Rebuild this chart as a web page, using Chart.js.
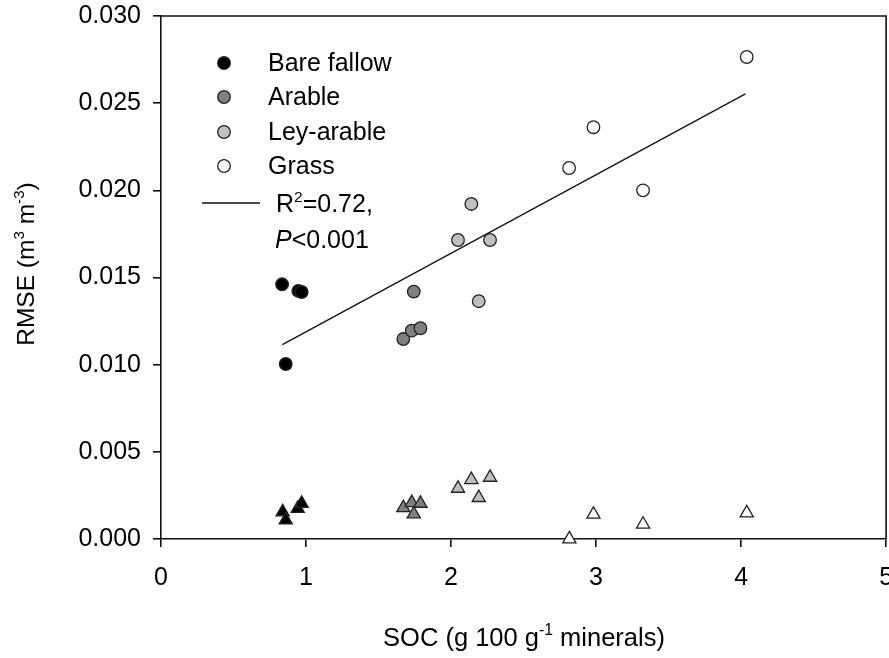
<!DOCTYPE html>
<html>
<head>
<meta charset="utf-8">
<script src="https://cdn.jsdelivr.net/npm/chart.js@4.4.1/dist/chart.umd.min.js"></script>
<style>
html,body{margin:0;padding:0;background:#fff;overflow:hidden;}
#wrap{width:889px;height:658px;position:relative;overflow:hidden;}
</style>
</head>
<body>
<div id="wrap"><canvas id="c" width="895" height="658"></canvas></div>
<script>
// ---- data ----
const groupNames = ["Bare fallow", "Arable", "Ley-arable", "Grass"];
const groupColors = ["#000000", "#808080", "#c0c0c0", "#ffffff"];

const socBare   = [0.835, 0.947, 0.970, 0.860];
const rmseBare  = [0.01461, 0.01423, 0.01417, 0.01004];
const socArable = [1.743, 1.671, 1.729, 1.789];
const rmseArable= [0.01419, 0.01147, 0.01195, 0.01209];
const socLey    = [2.048, 2.140, 2.269, 2.191];
const rmseLey   = [0.01715, 0.01922, 0.01715, 0.01364];
const socGrass  = [2.814, 2.982, 3.324, 4.039];
const rmseGrass = [0.02128, 0.02362, 0.02000, 0.02765];

const socBareT   = [0.839, 0.860, 0.943, 0.970];
const triBare    = [0.00155, 0.00108, 0.00175, 0.00204];
const socArableT = [1.671, 1.729, 1.789, 1.743];
const triArable  = [0.00179, 0.00208, 0.00204, 0.00143];
const socLeyT    = [2.048, 2.140, 2.269, 2.191];
const triLey     = [0.00290, 0.00340, 0.00353, 0.00237];
const socGrassT  = [2.982, 3.324, 4.039, 2.816];
const triGrass   = [0.00141, 0.00084, 0.00149, 0.00000];

const socFit  = [0.837, 4.03];
const rmseFit = [0.01115, 0.02553];

const xTicks = [0, 1, 2, 3, 4, 5];
const yTicks = [0, 0.005, 0.010, 0.015, 0.020, 0.025, 0.030];

const FONT = "'Liberation Sans', Arial, sans-serif";

function pts(xs, ys){ return xs.map((x,i)=>({x:x, y:ys[i]})); }

const circleSets = [
  [socBare, rmseBare], [socArable, rmseArable], [socLey, rmseLey], [socGrass, rmseGrass]
];
const triSets = [
  [socBareT, triBare], [socArableT, triArable], [socLeyT, triLey], [socGrassT, triGrass]
];

const datasets = [];
circleSets.forEach((s,i)=>{
  datasets.push({
    label: groupNames[i], data: pts(s[0], s[1]), showLine:false,
    pointStyle:'circle', pointRadius:6.3, pointBorderWidth:1.3,
    pointBackgroundColor: groupColors[i], pointBorderColor:'#222',
    clip:false, order:1
  });
});
triSets.forEach((s,i)=>{
  datasets.push({
    label: groupNames[i] + " (triangle)", data: pts(s[0], s[1]), showLine:false,
    pointStyle:'triangle', pointRadius:7.6, pointBorderWidth:1.3,
    pointBackgroundColor: groupColors[i], pointBorderColor:'#222',
    clip:false, order:1
  });
});
datasets.push({
  label:'fit', data: pts(socFit, rmseFit), showLine:true, pointRadius:0,
  borderColor:'#111', borderWidth:1.3, clip:false, order:10
});

function drawRich(ctx, parts, x, y, size){
  let cx = x;
  parts.forEach(p=>{
    const fs = p.sup ? size*0.62 : size;
    ctx.font = (p.italic ? 'italic ' : '') + fs + 'px ' + FONT;
    ctx.fillText(p.t, cx, p.sup ? y - size*0.42 : y);
    cx += ctx.measureText(p.t).width;
  });
  return cx - x;
}
function measureRich(ctx, parts, size){
  let w = 0;
  parts.forEach(p=>{
    const fs = p.sup ? size*0.62 : size;
    ctx.font = (p.italic ? 'italic ' : '') + fs + 'px ' + FONT;
    w += ctx.measureText(p.t).width;
  });
  return w;
}

const decor = {
  id:'decor',
  afterDraw(chart){
    const ctx = chart.ctx, a = chart.chartArea;
    ctx.save();
    ctx.strokeStyle = '#111'; ctx.lineWidth = 1.6;
    ctx.beginPath();
    ctx.moveTo(a.left, a.top); ctx.lineTo(a.right, a.top); ctx.lineTo(a.right, a.bottom);
    ctx.stroke();

    ctx.fillStyle = '#000'; ctx.textBaseline = 'alphabetic'; ctx.textAlign = 'left';
    const xt = [{t:'SOC (g 100 g'},{t:'-1',sup:true},{t:' minerals)'}];
    const xs = 25.5;
    const xw = measureRich(ctx, xt, xs);
    drawRich(ctx, xt, 524 - xw/2, 646, xs);
    const yt = [{t:'RMSE (m'},{t:'3',sup:true},{t:' m'},{t:'-3',sup:true},{t:')'}];
    const ys = 24.5;
    const yw = measureRich(ctx, yt, ys);
    ctx.save();
    ctx.translate(34, 264);
    ctx.rotate(-Math.PI/2);
    drawRich(ctx, yt, -yw/2, 0, ys);
    ctx.restore();

    const ls = 25;
    const rows = [63, 97, 132, 166];
    groupNames.forEach((n,i)=>{
      ctx.beginPath();
      ctx.arc(224, rows[i], 6.3, 0, Math.PI*2);
      ctx.fillStyle = groupColors[i]; ctx.fill();
      ctx.lineWidth = 1.3; ctx.strokeStyle = '#222'; ctx.stroke();
      ctx.fillStyle = '#000';
      ctx.font = ls + 'px ' + FONT;
      ctx.textBaseline = 'middle';
      ctx.fillText(n, 268, rows[i] + 1);
    });
    ctx.textBaseline = 'alphabetic';
    ctx.strokeStyle = '#111'; ctx.lineWidth = 1.3;
    ctx.beginPath(); ctx.moveTo(202, 203); ctx.lineTo(260, 203); ctx.stroke();
    drawRich(ctx, [{t:'R'},{t:'2',sup:true},{t:'=0.72,'}], 276, 212, ls);
    drawRich(ctx, [{t:'P',italic:true},{t:'<0.001'}], 275, 248, ls);
    ctx.restore();
  }
};

new Chart(document.getElementById('c'), {
  type:'scatter',
  data:{ datasets },
  options:{
    responsive:false, animation:false, events:[],
    layout:{ padding:{ left:0, right:0, top:16, bottom:0 } },
    plugins:{ legend:{display:false}, tooltip:{enabled:false}, title:{display:false} },
    scales:{
      x:{
        type:'linear', min:0, max:5,
        afterBuildTicks(s){ s.ticks = xTicks.map(v=>({value:v})); },
        afterFit(s){ s.height = 119; s.paddingLeft = 0; s.paddingRight = 0; },
        grid:{ drawOnChartArea:false, drawTicks:true, tickLength:8, color:'#111', lineWidth:1.6 },
        border:{ display:true, color:'#111', width:1.6 },
        ticks:{ color:'#000', font:{ family:FONT, size:25 }, padding:16, maxRotation:0,
                callback:v=>String(v) },
        title:{ display:false }
      },
      y:{
        type:'linear', min:0, max:0.03,
        afterBuildTicks(s){ s.ticks = yTicks.map(v=>({value:v})); },
        afterFit(s){ s.width = 161; s.paddingTop = 0; s.paddingBottom = 0; },
        grid:{ drawOnChartArea:false, drawTicks:true, tickLength:8, color:'#111', lineWidth:1.6 },
        border:{ display:true, color:'#111', width:1.6 },
        ticks:{ color:'#000', font:{ family:FONT, size:25 }, padding:12,
                callback:v=>Number(v).toFixed(3) },
        title:{ display:false }
      }
    }
  },
  plugins:[decor]
});
</script>
</body>
</html>
